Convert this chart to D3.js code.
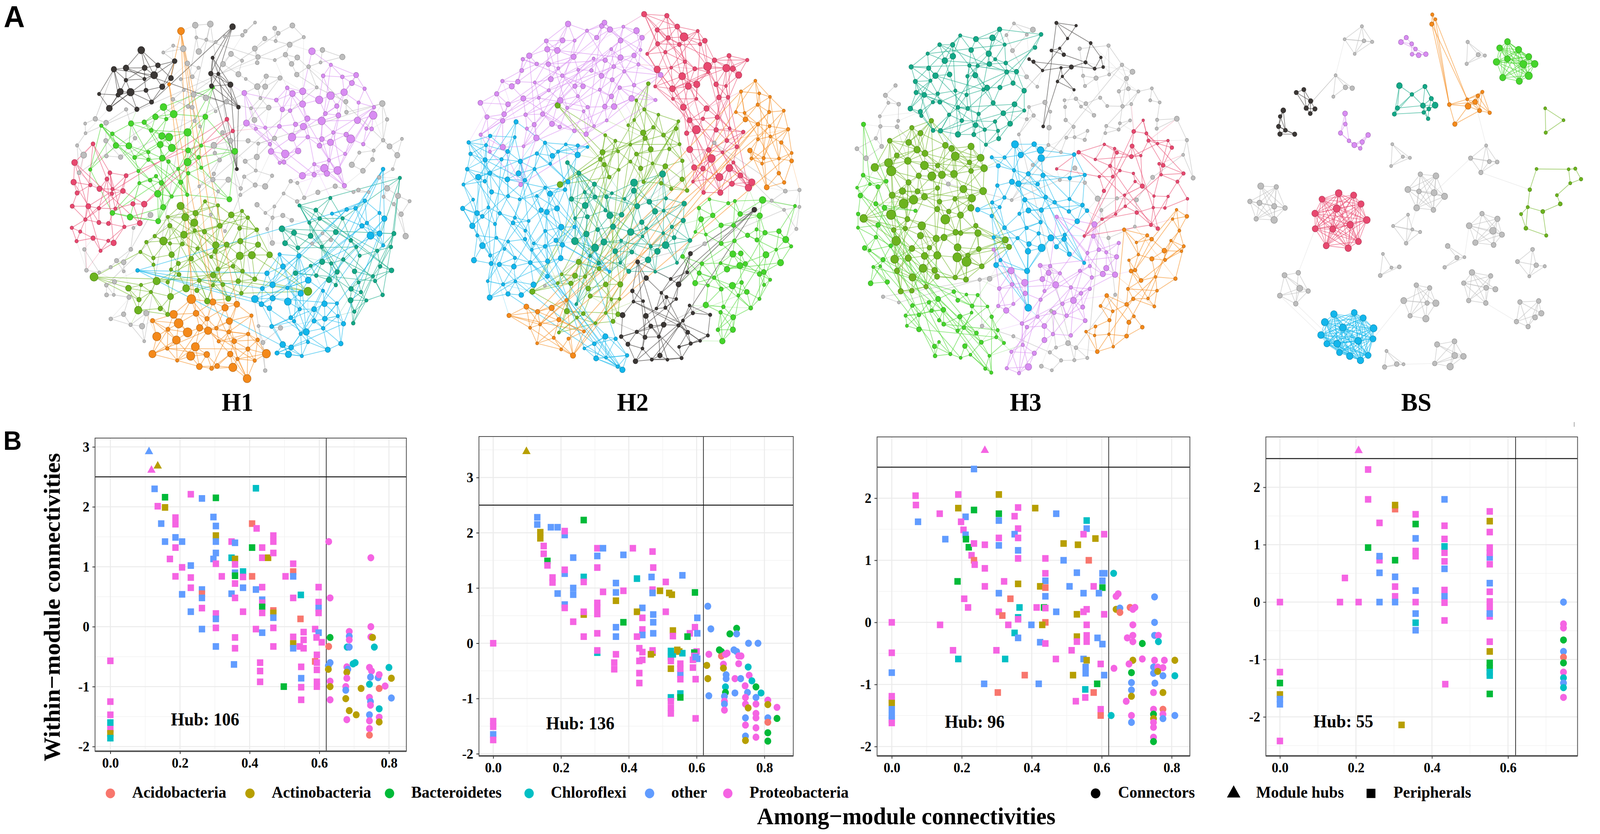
<!DOCTYPE html>
<html><head><meta charset="utf-8">
<script src="https://cdn.jsdelivr.net/npm/d3@7"></script>
<style>html,body{margin:0;padding:0;background:#fff;overflow:hidden}svg{display:block;width:100vw;height:100vh}</style>
</head><body>
<svg id="chart" viewBox="0 0 4276 2136" preserveAspectRatio="none"></svg>
<script>
// ================= DATA =================
const phylumCodes = ["A","T","B","C","O","P"];
const phylumNames = ["Acidobacteria","Actinobacteria","Bacteroidetes","Chloroflexi","other","Proteobacteria"];
const roleNames = ["Connectors","Module hubs","Peripherals"];
const networkNames = ["H1","H2","H3","BS"];
const hubCounts = [106,136,96,55];
const zThreshold = 2.5, pThreshold = 0.62;
const xTickValues = [[0,0.2,0.4,0.6,0.8],[0,0.2,0.4,0.6,0.8],[0,0.2,0.4,0.6,0.8],[0,0.2,0.4,0.6]];
const yTickValues = [[-2,-1,0,1,2,3],[-2,-1,0,1,2,3],[-2,-1,0,1,2],[-2,-1,0,1,2]];
const hubLabelAt = [[0.272,-1.55],[0.257,-1.45],[0.237,-1.6],[0.167,-2.08]];

// [Pi (among-module), Zi (within-module), phylum]
const h1Points = [
[0.111,2.92,"O"],[0.118,2.61,"P"],[0.136,2.68,"T"],
[0.127,2.30,"O"],[0.157,2.16,"B"],[0.136,2.01,"P"],[0.157,1.99,"T"],[0.231,2.21,"P"],[0.263,2.14,"O"],[0.303,2.15,"B"],[0.418,2.31,"C"],
[0.146,1.72,"O"],[0.187,1.82,"P"],[0.187,1.71,"P"],[0.296,1.83,"O"],[0.303,1.68,"O"],[0.407,1.72,"A"],[0.42,1.64,"P"],[0.303,1.52,"T"],[0.303,1.42,"O"],[0.468,1.52,"P"],[0.468,1.42,"P"],[0.157,1.42,"O"],[0.187,1.49,"O"],[0.206,1.42,"O"],[0.187,1.32,"P"],[0.348,1.42,"P"],[0.358,1.40,"O"],[0.407,1.32,"B"],[0.436,1.32,"P"],
[0.171,1.13,"P"],[0.303,1.23,"O"],[0.296,1.13,"O"],[0.348,1.15,"C"],[0.358,1.13,"T"],[0.436,1.15,"P"],[0.453,1.15,"T"],[0.468,1.23,"P"],
[0.231,1.02,"O"],[0.206,0.99,"P"],[0.303,1.05,"P"],[0.358,1.04,"P"],[0.525,1.05,"P"],[0.525,0.92,"A"],[0.525,0.84,"O"],[0.503,0.84,"P"],[0.358,0.90,"O"],[0.381,0.92,"C"],[0.358,0.85,"B"],[0.381,0.83,"P"],[0.407,0.84,"A"],[0.187,0.84,"P"],[0.231,0.82,"P"],[0.32,0.84,"P"],[0.358,0.72,"P"],
[0.231,0.65,"P"],[0.381,0.65,"O"],[0.436,0.66,"P"],[0.598,0.66,"P"],[0.263,0.62,"O"],[0.418,0.62,"O"],[0.206,0.54,"O"],[0.348,0.55,"O"],[0.263,0.55,"A"],[0.263,0.48,"O"],[0.358,0.48,"P"],[0.547,0.53,"C"],[0.525,0.48,"P"],
[0.436,0.45,"O"],[0.436,0.40,"P"],[0.598,0.41,"P"],[0.436,0.33,"B"],[0.263,0.31,"P"],[0.231,0.25,"O"],[0.381,0.25,"P"],[0.468,0.27,"A"],[0.468,0.23,"T"],[0.436,0.23,"P"],[0.598,0.31,"O"],[0.598,0.23,"P"],[0.303,0.22,"P"],[0.303,0.13,"O"],[0.468,0.15,"O"],[0.546,0.13,"A"],
[0.263,-0.04,"O"],[0.303,-0.02,"P"],[0.418,-0.04,"P"],[0.468,-0.02,"P"],[0.436,-0.10,"O"],[0.588,-0.04,"P"],[0.598,-0.10,"O"],[0.555,-0.09,"P"],[0.555,-0.22,"P"],[0.555,-0.36,"P"],[0.525,-0.17,"P"],[0.525,-0.28,"T"],[0.525,-0.36,"O"],[0.544,-0.33,"P"],[0.592,-0.18,"P"],[0.607,-0.26,"P"],[0.358,-0.18,"P"],[0.358,-0.36,"P"],[0.303,-0.33,"O"],[0.468,-0.33,"P"],[0.0,-0.57,"P"],
[0.355,-0.63,"O"],[0.43,-0.60,"P"],[0.43,-0.74,"P"],[0.43,-0.92,"P"],[0.548,-0.67,"P"],[0.548,-0.86,"O"],[0.548,-1.01,"P"],[0.548,-1.22,"P"],[0.593,-0.47,"P"],[0.588,-0.58,"A"],[0.593,-0.60,"P"],[0.593,-0.72,"P"],[0.593,-0.92,"P"],[0.593,-1.0,"P"],[0.498,-1.0,"B"],
[0,-1.25,"P"],[0,-1.47,"P"],[0,-1.6,"C"],[0,-1.71,"P"],[0,-1.78,"T"],[0,-1.86,"C"],
[0.627,1.42,"P"],[0.748,1.15,"P"],[0.631,0.48,"P"],[0.631,-0.18,"B"],[0.627,-0.33,"A"],[0.686,-0.08,"P"],[0.686,-0.16,"O"],[0.686,-0.22,"P"],[0.68,-0.34,"C"],[0.686,-0.34,"O"],[0.748,0.0,"P"],[0.748,-0.17,"P"],[0.753,-0.18,"T"],[0.758,-0.34,"C"],[0.631,-0.6,"O"],[0.703,-0.6,"C"],
[0.626,-0.65,"O"],[0.626,-0.71,"T"],[0.631,-0.91,"P"],[0.631,-1.0,"T"],[0.631,-1.22,"P"],[0.679,-0.67,"P"],[0.682,-0.71,"O"],[0.679,-0.76,"T"],[0.679,-0.86,"P"],[0.676,-1.0,"P"],[0.676,-1.06,"O"],[0.676,-1.2,"T"],[0.679,-1.55,"P"],[0.686,-1.4,"T"],[0.706,-1.47,"T"],[0.697,-0.62,"C"],[0.72,-1.03,"T"],[0.744,-0.68,"P"],[0.75,-0.74,"P"],[0.747,-0.84,"O"],[0.744,-0.96,"C"],[0.744,-1.18,"P"],[0.747,-1.25,"O"],[0.747,-1.31,"P"],[0.744,-1.47,"O"],[0.744,-1.57,"P"],[0.744,-1.7,"P"],[0.744,-1.81,"A"],[0.769,-0.85,"O"],[0.772,-0.8,"P"],[0.772,-1.03,"A"],[0.772,-1.37,"C"],[0.772,-1.51,"P"],[0.772,-1.59,"T"],[0.789,-0.99,"P"],[0.8,-0.68,"C"],[0.807,-0.86,"T"],[0.807,-1.19,"O"]
];

const h2Points = [
[0.098,3.47,"T"],
[0.13,2.28,"O"],[0.13,2.15,"O"],[0.17,2.10,"O"],[0.19,2.10,"O"],[0.211,1.96,"O"],[0.211,2.03,"P"],[0.267,2.23,"B"],[0.139,2.01,"T"],[0.139,1.9,"T"],[0.149,1.76,"P"],[0.149,1.62,"P"],[0.16,1.49,"B"],[0.16,1.41,"P"],[0.211,1.26,"O"],[0.211,1.33,"P"],[0.236,1.55,"O"],[0.175,1.19,"P"],[0.175,1.1,"P"],
[0.307,1.72,"P"],[0.324,1.72,"O"],[0.307,1.58,"O"],[0.307,1.37,"P"],[0.384,1.6,"O"],[0.412,1.72,"P"],[0.47,1.66,"P"],[0.472,1.37,"P"],[0.267,1.2,"C"],[0.267,1.11,"P"],[0.424,1.17,"C"],[0.467,1.2,"O"],[0.558,1.23,"O"],[0.509,1.11,"P"],[0.362,1.09,"O"],
[0.19,0.9,"O"],[0.236,1.0,"O"],[0.236,0.88,"O"],[0.324,0.93,"P"],[0.362,0.92,"O"],[0.384,0.95,"P"],[0.47,0.97,"P"],[0.47,0.91,"O"],[0.492,0.95,"T"],[0.519,0.91,"T"],[0.527,0.88,"T"],[0.595,0.92,"B"],
[0.211,0.7,"O"],[0.211,0.64,"P"],[0.307,0.73,"P"],[0.307,0.65,"P"],[0.307,0.53,"P"],[0.362,0.77,"T"],[0.267,0.52,"T"],[0.267,0.57,"P"],[0.44,0.64,"O"],[0.424,0.57,"T"],[0.509,0.57,"P"],[0.472,0.52,"O"],[0.602,0.46,"O"],[0.44,0.46,"P"],[0.384,0.38,"B"],[0.236,0.39,"P"],[0.472,0.38,"O"],[0.362,0.29,"O"],[0.595,0.29,"P"],
[0.307,0.18,"P"],[0.44,0.25,"P"],[0.44,0.15,"O"],[0.472,0.18,"O"],[0.53,0.23,"T"],[0.53,0.13,"P"],[0.58,0.18,"P"],[0.602,0.18,"O"],[0.573,0.12,"B"],[0.267,0.12,"P"],[0.362,0.12,"O"],[0.424,0.12,"P"],[0.0,0.0,"P"],
[0.307,-0.17,"C"],[0.307,-0.13,"P"],[0.362,-0.2,"P"],[0.44,-0.16,"P"],[0.44,-0.3,"P"],[0.47,-0.17,"T"],[0.47,-0.13,"P"],[0.53,-0.2,"C"],[0.549,-0.15,"T"],[0.558,-0.18,"C"],[0.6,-0.15,"P"],[0.593,-0.17,"B"],[0.593,-0.23,"P"],[0.602,-0.28,"O"],
[0.357,-0.35,"P"],[0.357,-0.47,"P"],[0.431,-0.09,"P"],[0.431,-0.32,"P"],[0.431,-0.54,"P"],[0.431,-0.72,"P"],[0.465,-0.2,"T"],[0.524,-0.14,"C"],[0.524,-0.25,"C"],[0.524,-0.46,"T"],[0.524,-0.32,"P"],[0.524,-0.98,"C"],[0.524,-1.05,"P"],[0.524,-1.17,"P"],[0.524,-1.27,"P"],[0.543,-0.12,"T"],[0.552,-0.56,"O"],[0.552,-0.37,"P"],[0.552,-0.46,"P"],[0.552,-0.65,"P"],[0.552,-0.91,"C"],[0.552,-0.98,"B"],[0.589,-0.3,"P"],[0.589,-0.44,"P"],[0.597,-0.25,"O"],[0.597,-0.65,"P"],[0.597,-1.36,"P"],
[0,-1.41,"P"],[0,-1.51,"P"],[0,-1.65,"O"],[0,-1.75,"P"],
[0.633,0.67,"O"],[0.642,0.26,"O"],[0.718,0.27,"B"],[0.698,0.17,"B"],[0.718,0.17,"O"],[0.753,0.0,"O"],[0.781,0.0,"O"],[0.673,-0.15,"B"],[0.69,-0.18,"P"],[0.673,-0.23,"A"],[0.718,-0.15,"O"],[0.731,-0.23,"P"],[0.636,-0.2,"P"],
[0.667,-0.12,"B"],[0.71,-0.12,"O"],[0.685,-0.2,"P"],[0.724,-0.23,"P"],[0.63,-0.4,"T"],[0.679,-0.38,"P"],[0.679,-0.45,"T"],[0.724,-0.37,"P"],[0.752,-0.43,"C"],[0.633,-0.64,"T"],[0.687,-0.57,"O"],[0.687,-0.64,"O"],[0.713,-0.64,"P"],[0.73,-0.64,"O"],[0.755,-0.58,"P"],[0.763,-0.68,"C"],[0.685,-0.79,"C"],[0.713,-0.9,"O"],[0.685,-0.89,"B"],[0.743,-0.77,"P"],[0.775,-0.79,"B"],[0.75,-0.89,"O"],[0.79,-0.9,"C"],[0.636,-0.95,"O"],[0.682,-0.96,"O"],[0.682,-1.05,"P"],[0.682,-1.1,"O"],[0.744,-0.98,"P"],[0.744,-1.1,"P"],[0.752,-1.17,"T"],[0.775,-0.98,"O"],[0.775,-1.1,"P"],[0.775,-1.27,"P"],[0.81,-1.03,"P"],[0.81,-1.11,"T"],[0.837,-1.16,"P"],[0.682,-1.21,"P"],[0.744,-1.35,"O"],[0.775,-1.35,"P"],[0.81,-1.35,"O"],[0.837,-1.36,"B"],[0.744,-1.48,"P"],[0.775,-1.53,"P"],[0.81,-1.43,"A"],[0.81,-1.62,"B"],[0.744,-1.68,"O"],[0.744,-1.76,"T"],[0.775,-1.7,"P"],[0.81,-1.77,"B"]
];

const h3Points = [
[0.266,2.77,"P"],
[0.235,2.47,"O"],[0.068,2.04,"P"],[0.069,1.89,"P"],[0.19,2.06,"P"],[0.306,2.06,"T"],[0.19,1.84,"T"],[0.235,1.81,"B"],[0.361,1.85,"P"],[0.41,1.84,"T"],[0.47,1.75,"O"],[0.137,1.75,"P"],[0.211,1.70,"O"],[0.306,1.75,"B"],[0.306,1.64,"O"],[0.351,1.71,"P"],[0.198,1.62,"P"],[0.075,1.62,"O"],[0.557,1.64,"C"],[0.557,1.51,"O"],[0.205,1.49,"P"],[0.361,1.51,"P"],
[0.153,1.34,"O"],[0.211,1.41,"O"],[0.212,1.34,"B"],[0.306,1.36,"P"],[0.351,1.42,"O"],[0.361,1.36,"P"],[0.548,1.42,"P"],[0.582,1.35,"T"],[0.607,1.42,"P"],[0.491,1.27,"T"],[0.532,1.25,"T"],[0.22,1.21,"B"],[0.235,1.27,"P"],[0.266,1.25,"P"],[0.306,1.24,"O"],[0.361,1.16,"O"],
[0.228,1.08,"P"],[0.235,1.0,"A"],[0.237,0.93,"P"],[0.361,1.03,"P"],[0.439,1.03,"P"],[0.491,1.0,"O"],[0.563,1.0,"A"],[0.266,0.87,"P"],[0.439,0.79,"P"],[0.529,0.8,"O"],[0.602,0.79,"O"],[0.608,0.79,"O"],
[0.188,0.66,"B"],[0.321,0.66,"P"],[0.439,0.67,"O"],[0.361,0.62,"T"],[0.602,0.67,"O"],[0.266,0.58,"P"],[0.424,0.58,"T"],[0.439,0.56,"A"],[0.508,0.58,"O"],[0.577,0.58,"P"],[0.602,0.56,"B"],[0.306,0.47,"O"],[0.548,0.47,"O"],[0.592,0.47,"O"],[0.207,0.38,"P"],[0.339,0.38,"A"],[0.439,0.42,"O"],
[0.218,0.24,"P"],[0.365,0.24,"C"],[0.414,0.24,"P"],[0.435,0.24,"B"],[0.439,0.23,"P"],[0.306,0.17,"P"],[0.316,0.11,"A"],[0.47,0.17,"O"],[0.529,0.13,"T"],[0.548,0.17,"P"],[0.557,0.21,"P"],[0.607,0.13,"P"],[0.361,0.08,"C"],[0.361,0.05,"P"],
[0.0,0.0,"P"],[0.138,-0.04,"P"],[0.333,-0.04,"P"],[0.399,-0.04,"O"],[0.439,0.0,"A"],[0.43,-0.04,"T"],[0.557,-0.04,"P"],[0.351,-0.17,"C"],[0.361,-0.25,"O"],[0.529,-0.23,"T"],[0.529,-0.31,"P"],[0.557,-0.21,"P"],[0.557,-0.31,"P"],[0.424,-0.32,"O"],[0.439,-0.34,"P"],[0.588,-0.25,"O"],[0.602,-0.35,"O"],
[0.0,-0.49,"P"],[0.175,-0.45,"P"],[0.299,-0.45,"P"],[0.514,-0.45,"P"],[0.19,-0.59,"C"],[0.324,-0.59,"C"],[0.469,-0.59,"P"],[0.548,-0.59,"O"],[0.557,-0.61,"T"],
[0.597,-0.67,"P"],[0.0,-0.81,"O"],[0.38,-0.85,"A"],[0.518,-0.85,"T"],[0.554,-0.72,"O"],[0.554,-0.82,"O"],[0.607,-0.85,"O"],[0.264,-0.99,"O"],[0.42,-0.99,"O"],[0.587,-0.99,"B"],[0.303,-1.13,"A"],[0.553,-1.08,"C"],[0.577,-1.13,"A"],[0.553,-1.21,"P"],[0.526,-1.27,"P"],
[0.0,-1.19,"P"],[0.0,-1.25,"P"],[0.0,-1.3,"T"],[0.0,-1.4,"O"],[0.0,-1.5,"O"],[0.0,-1.57,"O"],[0.0,-1.62,"P"],[0.597,-1.4,"P"],[0.597,-1.5,"A"],
[0.634,0.79,"C"],[0.647,0.46,"P"],[0.641,0.42,"P"],[0.641,0.21,"T"],[0.652,0.23,"O"],[0.652,0.16,"A"],[0.681,0.24,"A"],[0.695,0.24,"P"],[0.689,0.21,"P"],[0.751,0.41,"O"],[0.751,0.0,"O"],[0.689,-0.04,"P"],[0.673,-0.25,"P"],[0.689,-0.21,"P"],[0.689,-0.31,"P"],[0.716,-0.34,"B"],[0.751,-0.21,"O"],[0.762,-0.21,"P"],[0.762,-0.31,"C"],[0.689,-0.61,"T"],[0.716,-0.59,"P"],[0.751,-0.61,"P"],[0.779,-0.61,"P"],[0.809,-0.61,"T"],
[0.635,-0.74,"P"],[0.685,-0.81,"B"],[0.678,-0.67,"P"],[0.748,-0.72,"O"],[0.748,-0.82,"O"],[0.76,-0.72,"P"],[0.775,-0.73,"P"],[0.76,-0.79,"T"],[0.775,-0.86,"O"],[0.809,-0.86,"C"],[0.685,-0.97,"O"],[0.685,-1.09,"O"],[0.752,-0.98,"O"],[0.748,-1.13,"P"],[0.775,-1.13,"T"],[0.685,-1.19,"T"],[0.67,-1.27,"P"],[0.627,-1.5,"C"],[0.685,-1.5,"P"],[0.685,-1.61,"O"],[0.748,-1.4,"P"],[0.748,-1.48,"B"],[0.748,-1.55,"T"],[0.748,-1.61,"P"],[0.748,-1.69,"P"],[0.775,-1.4,"A"],[0.775,-1.48,"P"],[0.775,-1.55,"O"],[0.809,-1.5,"O"],[0.748,-1.85,"P"],[0.748,-1.92,"B"]
];

const bsPoints = [
[0.207,2.64,"P"],
[0.232,2.31,"P"],[0.232,1.79,"P"],[0.303,1.62,"A"],[0.303,1.69,"T"],[0.433,1.79,"O"],[0.357,1.53,"P"],[0.552,1.58,"P"],[0.262,1.38,"P"],[0.357,1.36,"B"],[0.552,1.41,"T"],[0.433,1.33,"P"],[0.552,1.22,"P"],[0.357,1.11,"O"],[0.433,1.1,"P"],[0.232,0.95,"B"],[0.433,0.86,"P"],[0.433,0.97,"C"],[0.357,0.89,"P"],[0.357,0.8,"P"],[0.552,0.95,"P"],[0.552,0.78,"O"],[0.552,0.86,"P"],[0.262,0.73,"P"],[0.262,0.8,"O"],[0.303,0.73,"B"],[0.433,0.71,"P"],[0.552,0.66,"P"],[0.433,0.58,"O"],[0.262,0.51,"O"],[0.303,0.44,"O"],[0.171,0.42,"P"],[0.552,0.33,"O"],[0.303,0.27,"P"],[0.357,0.2,"O"],[0.433,0.21,"P"],[0.552,0.18,"P"],[0.433,0.1,"O"],[0.303,0.1,"P"],
[0,0,"P"],[0.158,0,"P"],[0.207,0,"P"],[0.262,0,"O"],[0.303,0,"O"],[0.357,0,"P"],[0.433,-0.01,"P"],[0.552,0.01,"P"],[0.552,-0.1,"P"],[0.552,-0.25,"P"],[0.552,-0.2,"O"],[0.357,-0.2,"O"],[0.433,-0.32,"P"],[0.357,-0.36,"C"],[0.357,-0.49,"O"],[0.552,-0.69,"P"],[0.552,-0.86,"T"],[0.552,-1.06,"B"],[0.552,-1.15,"B"],[0.552,-1.22,"C"],[0.552,-1.28,"C"],[0.552,-1.6,"B"],[0.435,-1.43,"P"],[0.32,-2.14,"T"],
[0,-1.22,"P"],[0,-1.41,"B"],[0,-1.61,"T"],[0,-1.69,"O"],[0,-1.78,"O"],[0,-2.42,"P"],
[0.746,0,"O"],[0.746,-0.38,"P"],[0.746,-0.45,"P"],[0.746,-0.66,"B"],[0.746,-0.86,"O"],[0.746,-0.96,"A"],[0.746,-1.06,"B"],[0.746,-1.22,"P"],[0.746,-1.32,"C"],[0.746,-1.41,"O"],[0.746,-1.49,"C"],[0.746,-1.66,"P"]
];

// network module membership (module colour key, node count)
const h1ModuleNames = ["grey","dark","purple","pink","brightGreen","olive","orange","cyan","teal"];
const h1ModuleSizes = [175,32,55,32,42,62,42,45,42];
const h2ModuleNames = ["grey","purple","cyan","pink","olive","teal","orange","brightGreen","dark"];
const h2ModuleSizes = [15,85,80,60,65,55,45,50,40];
const h3ModuleNames = ["grey","teal","olive","brightGreen","cyan","purple","pink","orange","dark"];
const h3ModuleSizes = [120,55,75,50,50,55,40,40,30];
const bsModuleNames = ["dark","purple","teal","orange","brightGreen","pink","cyan","olive"];
const bsModuleSizes = [12,15,11,12,11,13,15,16];
const bsGreyCliqueSizes = [8,7,8,7,7,6,6,6,5,5,5,5,4,4,4,4,4,4,3,3,3,3,3,3,3,3,3,3,2,2,2,2,2,2,2,2,4,5,3,4,6,3,2,3,4,3,2,3];

// ================= STYLE / LAYOUT =================
const phylumColor = {A:"#F8766D",T:"#B79F00",B:"#00BA38",C:"#00BFC4",O:"#619CFF",P:"#F564E3"};
const moduleColor = {grey:"#bdbdbd",dark:"#3b3735",pink:"#e8486f",brightGreen:"#45d52b",olive:"#6cb31f",orange:"#f4891a",purple:"#d88cf2",cyan:"#12b6ec",teal:"#13a887"};
const SERIF = "'Liberation Serif','Times New Roman',Times,serif";
const SANS = "'Liberation Sans',Arial,Helvetica,sans-serif";
const NET_R = 475;
const netCenters = [[635,505],[1686,492],[2731,508],[3785,492]];
const netLabelX = [635,1691,2741,3785];

// module territories: blob = [ux, uy, sigma, weight]  (unit disc coordinates)
const netLayout = {
  H1:{
    grey:{blobs:[[0.1,-0.8,0.25,1],[0,0,3,0.55],[0.85,0.0,0.2,0.6]],k:2,pk:0.95,long:0.08,cross:0.35,r:[4,8]},
    dark:{blobs:[[-0.6,-0.72,0.15,1],[-0.1,-0.62,0.14,0.5],[-0.92,0.25,0.08,0.3]],k:4,pk:0.85,long:0.3,cross:0.1,r:[4.5,10]},
    purple:{blobs:[[0.45,-0.42,0.22,1]],k:4,pk:0.85,long:0.25,cross:0.1,r:[4.5,11]},
    pink:{blobs:[[-0.78,0.05,0.15,1],[-0.05,-0.4,0.1,0.3]],k:3,pk:0.9,long:0.35,cross:0.1,r:[4.5,8]},
    brightGreen:{blobs:[[-0.45,-0.22,0.18,1],[0.1,-0.3,0.12,0.3]],k:4,pk:0.85,long:0.5,cross:0.1,r:[4.5,10]},
    olive:{blobs:[[-0.2,0.42,0.22,1]],k:4,pk:0.85,long:0.45,cross:0.1,r:[4.5,11]},
    orange:{blobs:[[-0.15,0.78,0.14,1],[0.45,0.7,0.1,0.15]],k:5,pk:0.85,long:0.35,cross:0.1,r:[4.5,12]},
    cyan:{blobs:[[0.32,0.62,0.16,1],[0.72,0.2,0.15,0.4]],k:4,pk:0.85,long:0.45,cross:0.1,r:[4.5,10]},
    teal:{blobs:[[0.6,0.35,0.22,1],[0.1,0.93,0.08,0.3]],k:3,pk:0.9,long:0.45,cross:0.1,r:[4.5,8]}
  },
  H2:{
    grey:{blobs:[[0,0,3,1]],k:2,pk:0.9,long:0.05,cross:0.5,r:[4,6]},
    purple:{blobs:[[-0.35,-0.62,0.2,1],[-0.72,-0.05,0.12,0.4]],k:4,pk:0.85,long:0.45,cross:0.15,r:[4,8]},
    cyan:{blobs:[[-0.7,0.1,0.2,1],[-0.2,0.9,0.08,0.2],[-0.3,-0.3,0.1,0.2]],k:4,pk:0.85,long:0.45,cross:0.15,r:[4,8]},
    pink:{blobs:[[0.3,-0.75,0.16,1],[0.45,-0.25,0.14,0.6]],k:5,pk:0.85,long:0.4,cross:0.15,r:[4,11]},
    olive:{blobs:[[-0.05,-0.25,0.18,1],[-0.35,0.55,0.15,0.6]],k:4,pk:0.85,long:0.5,cross:0.15,r:[4,8]},
    teal:{blobs:[[-0.15,0.05,0.2,1]],k:5,pk:0.85,long:0.4,cross:0.15,r:[4,10]},
    orange:{blobs:[[0.78,-0.4,0.12,1],[-0.45,0.75,0.13,0.8]],k:4,pk:0.85,long:0.4,cross:0.15,r:[4,8]},
    brightGreen:{blobs:[[0.66,0.45,0.15,1],[0.45,0.1,0.12,0.4]],k:4,pk:0.85,long:0.35,cross:0.15,r:[4,9]},
    dark:{blobs:[[0.05,0.62,0.2,1],[0.75,0.2,0.08,0.3],[-0.75,0.3,0.08,0.2]],k:3,pk:0.9,long:0.5,cross:0.15,r:[4,7]}
  },
  H3:{
    grey:{blobs:[[0.4,-0.65,0.22,1],[0.2,0.78,0.18,0.6],[0,0,3,0.3]],k:2,pk:0.9,long:0.08,cross:0.35,r:[4,7]},
    teal:{blobs:[[-0.3,-0.62,0.2,1]],k:4,pk:0.85,long:0.35,cross:0.1,r:[4.5,8]},
    olive:{blobs:[[-0.5,0.1,0.17,1]],k:6,pk:0.85,long:0.3,cross:0.1,r:[6,13]},
    brightGreen:{blobs:[[-0.8,0.15,0.14,1],[-0.4,0.78,0.15,0.8]],k:3,pk:0.9,long:0.5,cross:0.1,r:[4,7]},
    cyan:{blobs:[[0.0,0.1,0.18,1]],k:4,pk:0.85,long:0.4,cross:0.1,r:[4.5,10]},
    purple:{blobs:[[0.1,0.5,0.17,1],[0.0,0.92,0.07,0.3],[0.45,0.3,0.12,0.4]],k:4,pk:0.85,long:0.35,cross:0.1,r:[4.5,9]},
    pink:{blobs:[[0.6,-0.1,0.22,1]],k:3,pk:0.85,long:0.4,cross:0.1,r:[3.5,6]},
    orange:{blobs:[[0.82,0.35,0.14,1],[0.55,0.75,0.12,0.5]],k:3,pk:0.9,long:0.35,cross:0.1,r:[3.5,6.5]},
    dark:{blobs:[[0.3,-0.72,0.18,1],[-0.3,0.1,0.15,0.4]],k:2,pk:0.9,long:0.5,cross:0.1,r:[3.5,6]}
  },
  BS:{
    dark:{blobs:[[-0.68,-0.4,0.16,1]],k:3,pk:0.9,long:0,cross:0.05,r:[5,7]},
    purple:{blobs:[[0.0,-0.78,0.12,0.45],[-0.35,-0.32,0.13,0.55]],k:3,pk:0.9,long:0.05,cross:0,r:[5,7]},
    teal:{blobs:[[0.0,-0.48,0.14,1]],k:4,pk:0.85,long:0,cross:0.05,r:[5,8]},
    orange:{blobs:[[0.3,-0.45,0.12,0.75],[0.03,-0.93,0.07,0.25]],k:4,pk:0.85,long:0,cross:0,r:[4,8]},
    brightGreen:{blobs:[[0.56,-0.71,0.12,1]],k:10,pk:0.75,long:0,cross:0,r:[8,10],ring:true},
    pink:{blobs:[[-0.43,0.15,0.16,1]],k:12,pk:0.75,long:0,cross:0.05,r:[8,10],ring:true},
    cyan:{blobs:[[-0.39,0.79,0.16,1]],k:14,pk:0.75,long:0,cross:0,r:[8,10],ring:true},
    olive:{blobs:[[0.72,0.05,0.2,0.6],[0.75,-0.38,0.12,0.2],[0.92,-0.1,0.07,0.2]],k:2,pk:0.95,long:0,cross:0.05,r:[4,6]}
  }
};

// ================= DRAW =================
const svg = d3.select("#chart");
svg.append("rect").attr("width",4276).attr("height",2136).attr("fill","#fff");

function buildGroups(names, sizes, layout){
  return names.map((nm,i)=>Object.assign({style:nm, n:sizes[i]}, layout[nm]));
}

// dense networks: evenly fill the disc, then share the positions out to modules by territory
function territoryNodes(groups, cx, cy, rng){
  const N = d3.sum(groups,g=>g.n);
  const pts = [];
  for(let i=0;i<N;i++){
    const r = 0.965*Math.sqrt((i+0.5)/N), th = i*2.399963;
    let ux = r*Math.cos(th)+(rng()-0.5)*0.055, uy = r*Math.sin(th)+(rng()-0.5)*0.055;
    const d = Math.hypot(ux,uy); if(d>0.98){ux*=0.98/d;uy*=0.98/d;}
    pts.push([ux,uy]);
  }
  const W = pts.map(p=>groups.map(g=>1e-4+d3.sum(g.blobs,b=>b[3]*Math.exp(-((p[0]-b[0])**2+(p[1]-b[1])**2)/(2*b[2]*b[2])))));
  const lam = groups.map(()=>1);
  for(let it=0;it<80;it++){
    const col = groups.map(()=>0);
    W.forEach(w=>{ let s=0; w.forEach((v,m)=>s+=v*lam[m]); w.forEach((v,m)=>col[m]+=v*lam[m]/s); });
    groups.forEach((g,m)=>lam[m]*=g.n/Math.max(col[m],1e-9));
  }
  const nodes=[];
  pts.forEach((p,i)=>{
    const w = W[i].map((v,m)=>v*lam[m]);
    let m;
    if(rng()<0.7){ m = d3.maxIndex(w); }
    else { const s=d3.sum(w); let u=rng()*s; m=0; while(m<w.length-1 && u>w[m]){u-=w[m]; m++;} }
    const gr = groups[m], u=rng();
    nodes.push({g:gr, x:cx+p[0]*NET_R, y:cy+p[1]*NET_R, r:gr.r[0]+(gr.r[1]-gr.r[0])*u*u});
  });
  return nodes;
}

// sparse networks (BS): blobs of nodes relaxed by collision
function blobNodes(groups, cx, cy, rng){
  const sx = d3.scaleLinear([-1,1],[cx-NET_R,cx+NET_R]);
  const sy = d3.scaleLinear([-1,1],[cy-NET_R,cy+NET_R]);
  const nodes=[];
  groups.forEach(gr=>{
    const tot=d3.sum(gr.blobs,b=>b[3]); let made=0;
    gr.blobs.forEach((b,bi)=>{
      const cnt = bi===gr.blobs.length-1 ? gr.n-made : Math.round(gr.n*b[3]/tot);
      made+=cnt;
      for(let i=0;i<cnt;i++){
        let rr, th;
        if(gr.ring){
          const inner=Math.floor(cnt/4);
          if(i<inner){ rr=b[2]*0.4; th=2*Math.PI*i/Math.max(1,inner)+rng()*0.5; }
          else { rr=b[2]*(0.9+0.1*rng()); th=2*Math.PI*(i-inner)/(cnt-inner)+rng()*0.3; }
        } else { rr=b[2]*Math.sqrt(rng()); th=2*Math.PI*rng(); }
        let ux=b[0]+rr*Math.cos(th), uy=b[1]+rr*Math.sin(th);
        const d=Math.hypot(ux,uy); if(d>0.96){ux*=0.96/d;uy*=0.96/d;}
        const u=rng();
        nodes.push({g:gr,x0:sx(ux),y0:sy(uy),x:sx(ux),y:sy(uy),r:gr.r[0]+(gr.r[1]-gr.r[0])*u*u});
      }
    });
  });
  const sim = d3.forceSimulation(nodes)
    .force("c", d3.forceCollide(d=>d.r+3).iterations(2))
    .force("x", d3.forceX(d=>d.x0).strength(0.06))
    .force("y", d3.forceY(d=>d.y0).strength(0.06)).stop();
  for(let t=0;t<70;t++){
    sim.tick();
    nodes.forEach(d=>{const dx=d.x-cx,dy=d.y-cy,L=Math.hypot(dx,dy),M=NET_R*0.99; if(L>M){d.x=cx+dx*M/L;d.y=cy+dy*M/L;}});
  }
  return nodes;
}

function drawNetwork(nodes, rng){
  nodes.forEach((d,i)=>d.i=i);
  const dist=(a,b)=>Math.hypot(a.x-b.x,a.y-b.y);
  const edges=[], seen=new Set();
  function add(a,b,type){ if(a===b) return; const key=a.i<b.i?a.i+"_"+b.i:b.i+"_"+a.i; if(seen.has(key)) return; seen.add(key); edges.push({a,b,type}); }
  const byGroup = d3.group(nodes,d=>d.g);
  byGroup.forEach((arr,gr)=>{
    arr.forEach(d=>{
      const nb = arr.filter(o=>o!==d).sort((p,q)=>dist(d,p)-dist(d,q)).slice(0,gr.k);
      nb.forEach((o,j)=>{ if(j===0 || rng()<gr.pk) add(d,o,"in"); });
      if(rng()<gr.long && arr.length>2) add(d, arr[Math.floor(rng()*arr.length)], "in");
      if(rng()<gr.cross){
        const near = nodes.filter(o=>o.g!==gr).sort((p,q)=>dist(d,p)-dist(d,q)).slice(0,6);
        if(near.length) add(d, near[Math.floor(rng()*near.length)], "cross");
      }
    });
  });
  const g = svg.append("g");
  const isGrey = s=>s==="grey";
  edges.sort((e1,e2)=>(isGrey(e2.a.g.style)?1:0)-(isGrey(e1.a.g.style)?1:0) || (e1.type==="cross"?-1:1)-(e2.type==="cross"?-1:1));
  g.append("g").selectAll("line").data(edges).join("line")
    .attr("x1",e=>e.a.x).attr("y1",e=>e.a.y).attr("x2",e=>e.b.x).attr("y2",e=>e.b.y)
    .attr("stroke",e=>moduleColor[e.a.g.style])
    .attr("stroke-opacity",e=>e.type==="cross"?0.3:0.58)
    .attr("stroke-width",e=>e.type==="cross"?1.4:1.9);
  const ordered = nodes.slice().sort((p,q)=>(isGrey(q.g.style)?1:0)-(isGrey(p.g.style)?1:0));
  g.append("g").selectAll("circle").data(ordered).join("circle")
    .attr("cx",d=>d.x).attr("cy",d=>d.y).attr("r",d=>d.r)
    .attr("fill",d=>moduleColor[d.g.style])
    .attr("stroke",d=>d3.color(moduleColor[d.g.style]).darker(0.8))
    .attr("stroke-width",1.1);
}

[[h1ModuleNames,h1ModuleSizes,netLayout.H1,11],[h2ModuleNames,h2ModuleSizes,netLayout.H2,23],[h3ModuleNames,h3ModuleSizes,netLayout.H3,37]]
.forEach(([names,sizes,lay,seed],i)=>{
  const rng = d3.randomLcg(seed);
  const nodes = territoryNodes(buildGroups(names,sizes,lay), netCenters[i][0], netCenters[i][1], rng);
  drawNetwork(nodes, rng);
});
// BS: coloured modules + many small grey cliques
(function(){
  const rng = d3.randomLcg(51);
  const groups = buildGroups(bsModuleNames,bsModuleSizes,netLayout.BS);
  const colorBlobs = bsModuleNames.flatMap(n=>netLayout.BS[n].blobs);
  const placed=[]; const K=130; let j=0;
  bsGreyCliqueSizes.forEach(sz=>{
    while(j<K){
      const idx=(j*53)%K; j++;
      const t=(idx+0.5)/K, rr=0.93*Math.sqrt(t), th=idx*2.39996;
      const ax=rr*Math.cos(th), ay=rr*Math.sin(th), rc=0.035+0.009*sz;
      if(colorBlobs.some(b=>Math.hypot(ax-b[0],ay-b[1])<b[2]+rc+0.05)) continue;
      if(placed.some(p=>Math.hypot(ax-p[0],ay-p[1])<p[2]+rc+0.04)) continue;
      placed.push([ax,ay,rc]);
      groups.push({style:"grey",n:sz,blobs:[[ax,ay,rc,1]],k:sz-1,pk:0.65,long:0,cross:0.08,r:sz>=6?[6,9]:[4,6.5],ring:sz>=4});
      break;
    }
  });
  const nodes = blobNodes(groups, netCenters[3][0], netCenters[3][1], rng);
  drawNetwork(nodes, rng);
})();

// network labels
svg.append("g").selectAll("text").data(networkNames).join("text")
  .attr("x",(d,i)=>netLabelX[i]).attr("y",1052).attr("text-anchor","middle")
  .attr("font-family",SERIF).attr("font-weight","bold").attr("font-size",66).text(d=>d);

svg.append("text").attr("x",10).attr("y",70).attr("font-family",SANS).attr("font-weight","bold").attr("font-size",78).text("A");
svg.append("text").attr("x",9).attr("y",1152).attr("font-family",SANS).attr("font-weight","bold").attr("font-size",68).text("B");

// ---------- Zi-Pi panels ----------
const panelFrames = [
  {x0:254,x1:1086,y0:1122,y1:1924,xd:[-0.044,0.85],yd:[-2.078,3.147]},
  {x0:1280,x1:2120,y0:1118,y1:1936,xd:[-0.042,0.885],yd:[-2.039,3.742]},
  {x0:2344,x1:3180,y0:1119,y1:1936,xd:[-0.042,0.852],yd:[-2.151,2.987]},
  {x0:3383,x1:4216,y0:1119,y1:1936,xd:[-0.037,0.783],yd:[-2.68,2.878]}
];
const panelData = [h1Points,h2Points,h3Points,bsPoints];
const roleOf = d => d[1]>zThreshold ? "Module hubs" : (d[0]>pThreshold ? "Connectors" : "Peripherals");
const symType = {"Connectors":d3.symbolCircle,"Module hubs":d3.symbolTriangle,"Peripherals":d3.symbolSquare};
const symSize = {"Connectors":265,"Module hubs":215,"Peripherals":289};

panelFrames.forEach((pf,pi)=>{
  const x = d3.scaleLinear(pf.xd,[pf.x0,pf.x1]);
  const y = d3.scaleLinear(pf.yd,[pf.y1,pf.y0]);
  const g = svg.append("g");
  g.append("rect").attr("x",pf.x0).attr("y",pf.y0).attr("width",pf.x1-pf.x0).attr("height",pf.y1-pf.y0).attr("fill","#fff");
  const xMinor = [0.1,0.3,0.5,0.7].filter(v=>v<pf.xd[1]);
  const yMinor = d3.range(Math.floor(pf.yd[0])+0.5, pf.yd[1], 1).filter(v=>v>pf.yd[0]);
  g.append("g").selectAll("line").data(xMinor).join("line")
    .attr("x1",d=>x(d)).attr("x2",d=>x(d)).attr("y1",pf.y0).attr("y2",pf.y1).attr("stroke","#f2f2f2").attr("stroke-width",1.4);
  g.append("g").selectAll("line").data(yMinor).join("line")
    .attr("y1",d=>y(d)).attr("y2",d=>y(d)).attr("x1",pf.x0).attr("x2",pf.x1).attr("stroke","#f2f2f2").attr("stroke-width",1.4);
  g.append("g").selectAll("line").data(xTickValues[pi]).join("line")
    .attr("x1",d=>x(d)).attr("x2",d=>x(d)).attr("y1",pf.y0).attr("y2",pf.y1).attr("stroke","#ebebeb").attr("stroke-width",2.6);
  g.append("g").selectAll("line").data(yTickValues[pi]).join("line")
    .attr("y1",d=>y(d)).attr("y2",d=>y(d)).attr("x1",pf.x0).attr("x2",pf.x1).attr("stroke","#ebebeb").attr("stroke-width",2.6);
  g.append("line").attr("x1",pf.x0).attr("x2",pf.x1).attr("y1",y(zThreshold)).attr("y2",y(zThreshold)).attr("stroke","#1a1a1a").attr("stroke-width",2.6);
  g.append("line").attr("x1",x(pThreshold)).attr("x2",x(pThreshold)).attr("y1",pf.y0).attr("y2",pf.y1).attr("stroke","#1a1a1a").attr("stroke-width",1.8);
  g.append("g").selectAll("path").data(panelData[pi]).join("path")
    .attr("transform",d=>`translate(${x(d[0])},${y(d[1])})`)
    .attr("d",d=>d3.symbol().type(symType[roleOf(d)]).size(symSize[roleOf(d)])())
    .attr("fill",d=>phylumColor[d[2]]);
  g.append("rect").attr("x",pf.x0).attr("y",pf.y0).attr("width",pf.x1-pf.x0).attr("height",pf.y1-pf.y0)
    .attr("fill","none").attr("stroke","#4a4a4a").attr("stroke-width",2);
  g.append("line").attr("x1",pf.x0).attr("x2",pf.x1).attr("y1",pf.y1).attr("y2",pf.y1).attr("stroke","#555").attr("stroke-width",4);
  const ax = g.append("g").attr("transform",`translate(0,${pf.y1})`)
    .call(d3.axisBottom(x).tickValues(xTickValues[pi]).tickSize(7).tickPadding(9).tickFormat(d3.format(".1f")));
  const ay = g.append("g").attr("transform",`translate(${pf.x0},0)`)
    .call(d3.axisLeft(y).tickValues(yTickValues[pi]).tickSize(7).tickPadding(8).tickFormat(d=>String(d)));
  [ax,ay].forEach(a=>{
    a.select(".domain").remove();
    a.selectAll(".tick line").attr("stroke","#333").attr("stroke-width",2);
    a.selectAll(".tick text").attr("font-family",SERIF).attr("font-weight","bold").attr("font-size",36).attr("fill","#000");
  });
  g.append("text").attr("x",x(hubLabelAt[pi][0])).attr("y",y(hubLabelAt[pi][1]))
    .attr("text-anchor","middle").attr("dominant-baseline","central")
    .attr("font-family",SERIF).attr("font-weight","bold").attr("font-size",46).text("Hub: "+hubCounts[pi]);
});
svg.append("line").attr("x1",4207).attr("x2",4207).attr("y1",1081).attr("y2",1093).attr("stroke","#888").attr("stroke-width",1.5);

// axis titles
svg.append("text").attr("x",2422).attr("y",2111).attr("text-anchor","middle")
  .attr("font-family",SERIF).attr("font-weight","bold").attr("font-size",62).text("Among\u2212module connectivities");
svg.append("text").attr("transform","translate(160,1555) rotate(-90)").attr("text-anchor","middle")
  .attr("font-family",SERIF).attr("font-weight","bold").attr("font-size",62).text("Within\u2212module connectivities");

// legends
const phylumLegendX = [295,668,1041,1414,1736,1945];
const legendY = 2032;
const lg = svg.append("g");
phylumCodes.forEach((c,i)=>{
  lg.append("circle").attr("cx",phylumLegendX[i]).attr("cy",legendY).attr("r",12.5).attr("fill",phylumColor[c]);
  lg.append("text").attr("x",phylumLegendX[i]+58).attr("y",2043).attr("font-family",SERIF).attr("font-weight","bold").attr("font-size",42).text(phylumNames[i]);
});
const roleLegendX = [2928,3297,3664];
const roleLegendSize = {"Connectors":510,"Module hubs":560,"Peripherals":560};
roleNames.forEach((r,i)=>{
  lg.append("path").attr("transform",`translate(${roleLegendX[i]},${legendY})`)
    .attr("d",d3.symbol().type(symType[r]).size(roleLegendSize[r])()).attr("fill","#000");
  lg.append("text").attr("x",roleLegendX[i]+60).attr("y",2043).attr("font-family",SERIF).attr("font-weight","bold").attr("font-size",42).text(r);
});
</script>
</body></html>
